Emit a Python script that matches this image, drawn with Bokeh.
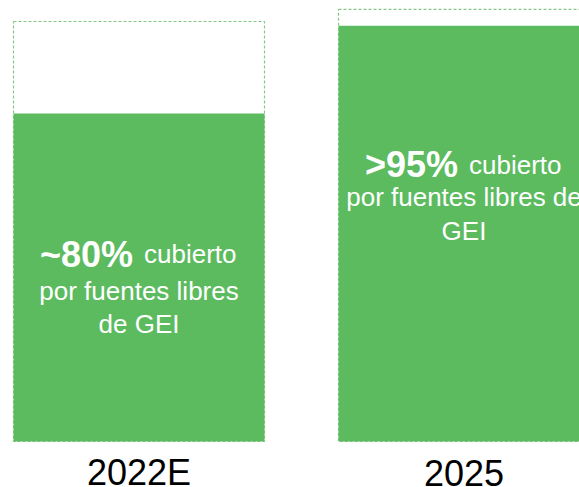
from bokeh.plotting import figure
from bokeh.models import ColumnDataSource, Range1d
from bokeh.core.properties import value
from bokeh.embed import file_html
from bokeh.resources import INLINE

# ---- data ----
years = ["2022E", "2025"]
total_demand = [100.0, 102.9]        # total demand (index, 2022E = 100)
ghg_free = [78.1, 99.0]              # part covered by GHG-free sources
share_labels = ["~80%", ">95%"]
line1_rest = ["cubierto", "cubierto"]
line2 = ["por fuentes libres", "por fuentes libres de"]
line3 = ["de GEI", "GEI"]

GREEN = "#5cbb5f"
DASH = "#86c888"
FONT = "Liberation Sans"

idx = list(range(len(years)))
bar_w = 0.7723

src = ColumnDataSource(dict(
    x=idx, total=total_demand, covered=ghg_free,
    left=[i - bar_w / 2 for i in idx], right=[i + bar_w / 2 for i in idx],
    share=share_labels, rest=line1_rest, l2=line2, l3=line3, year=years,
    off1=[141, 139], off2=[178, 171], off3=[211, 205],
))

p = figure(width=579, height=487, output_backend="svg", toolbar_location=None,
           x_range=Range1d(-0.42615, 1.35538), y_range=Range1d(-10.952, 105.0),
           min_border=0)
p.axis.visible = False
p.grid.visible = False
p.outline_line_color = None
p.background_fill_color = "white"
p.border_fill_color = "white"

# dashed outline for total demand
p.quad(left="left", right="right", bottom=0, top="total", source=src,
       fill_color=None, line_color=DASH, line_width=1.2, line_dash="3 2")
# covered part
p.quad(left="left", right="right", bottom=0, top="covered", source=src,
       fill_color=GREEN, line_color=None)

# texts inside bars
p.text(x="x", y="covered", text="share", source=src, x_offset=-6, y_offset="off1",
       text_align="right", text_baseline="alphabetic", text_color="white",
       text_font=value(FONT), text_font_style="bold", text_font_size="36px")
p.text(x="x", y="covered", text="rest", source=src, x_offset=5, y_offset="off1",
       text_align="left", text_baseline="alphabetic", text_color="white",
       text_font=value(FONT), text_font_size="26px")
p.text(x="x", y="covered", text="l2", source=src, y_offset="off2",
       text_align="center", text_baseline="alphabetic", text_color="white",
       text_font=value(FONT), text_font_size="26px")
p.text(x="x", y="covered", text="l3", source=src, y_offset="off3",
       text_align="center", text_baseline="alphabetic", text_color="white",
       text_font=value(FONT), text_font_size="26px")

# category labels
p.text(x="x", y=0, text="year", source=src, y_offset=31,
       text_align="center", text_baseline="alphabetic", text_color="black",
       text_font=value(FONT), text_font_size="36px")

open("out.html", "w").write(file_html(p, INLINE))
